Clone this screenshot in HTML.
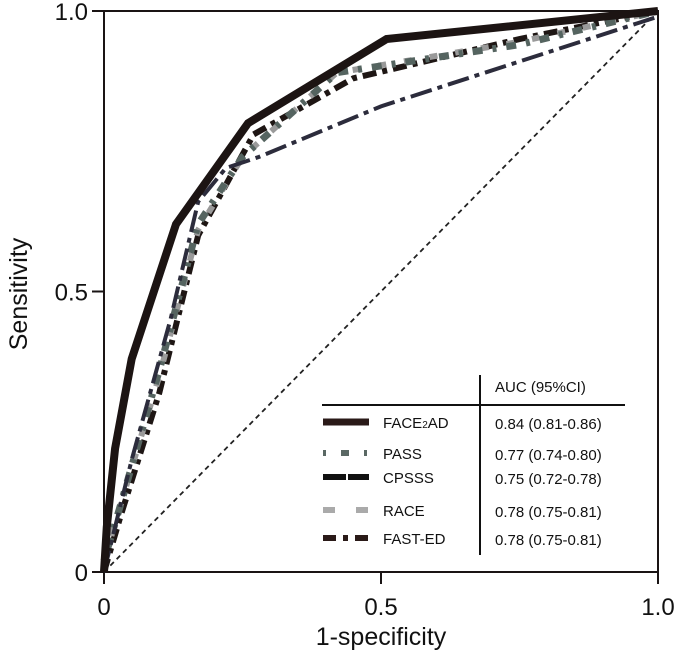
<!DOCTYPE html>
<html><head><meta charset="utf-8"><style>
body{margin:0;background:#fff}
svg{display:block;font-family:"Liberation Sans",Arial,sans-serif}
</style></head><body>
<svg id="chart" width="685" height="657" viewBox="0 0 685 657">
<g id="plot"></g>
</svg>
<script>
const xTicks=[0,0.5,1.0];
const xTickLabels=["0","0.5","1.0"];
const yTicks=[0,0.5,1.0];
const yTickLabels=["0","0.5","1.0"];
const seriesNames=["FAST-ED","RACE","PASS","CPSSS","FACE2AD"];
const faceX=[0,0.005,0.02,0.05,0.13,0.26,0.51,1];
const faceY=[0,0.08,0.22,0.38,0.62,0.80,0.95,1];
const passX=[0,0.03,0.1,0.17,0.25,0.42,0.75,1];
const passY=[0.02,0.12,0.36,0.62,0.74,0.89,0.94,1];
const cpsssX=[0,0.05,0.12,0.17,0.22,0.28,0.5,1];
const cpsssY=[0,0.2,0.45,0.66,0.72,0.74,0.83,0.99];
const raceX=[0,0.03,0.1,0.17,0.25,0.42,0.75,1];
const raceY=[0.02,0.12,0.35,0.61,0.74,0.89,0.945,1];
const fastX=[0,0.03,0.1,0.17,0.27,0.45,0.75,1];
const fastY=[0,0.1,0.32,0.6,0.78,0.88,0.95,1];
const aucLabels=["0.84 (0.81-0.86)","0.77 (0.74-0.80)","0.75 (0.72-0.78)","0.78 (0.75-0.81)","0.78 (0.75-0.81)"];

const X0=104,X1=658,Y0=572,Y1=11;
const sx=v=>X0+v*(X1-X0);
const sy=v=>Y0-v*(Y0-Y1);
const NS="http://www.w3.org/2000/svg";
const g=document.getElementById('plot');
function mk(tag,attrs,parent){const e=document.createElementNS(NS,tag);for(const k in attrs)e.setAttribute(k,attrs[k]);(parent||g).appendChild(e);return e;}

// frame
let e=mk('rect',{x:X0,y:Y1,width:X1-X0,height:Y0-Y1,fill:'none',stroke:'#1a1414','stroke-width':2});


xTicks.forEach((t,i)=>{
 let l=mk('line',{x1:sx(t),x2:sx(t),y1:Y0,y2:Y0+12,stroke:'#1a1414','stroke-width':2});
 
 
 let tx=mk('text',{x:sx(t),y:Y0+43,'font-size':24,'text-anchor':'middle',fill:'#111'});
 tx.textContent=xTickLabels[i];
 
 
});
yTicks.forEach((t,i)=>{
 let l=mk('line',{x1:X0-12,x2:X0,y1:sy(t),y2:sy(t),stroke:'#1a1414','stroke-width':2});
 
 
 let tx=mk('text',{x:X0-16,y:sy(t)+9,'font-size':24,'text-anchor':'end',fill:'#111'});
 tx.textContent=yTickLabels[i];
 
 
});
let xt=mk('text',{x:381,y:645,'font-size':25,'text-anchor':'middle',fill:'#111'});
xt.textContent='1-specificity';


let yt=mk('text',{x:0,y:0,'font-size':25,'text-anchor':'middle',fill:'#111',transform:'translate(27,294) rotate(-90)'});
yt.textContent='Sensitivity';



// diagonal
let d=mk('line',{x1:sx(0),y1:sy(0),x2:sx(1),y2:sy(1),stroke:'#222','stroke-width':1.8,'stroke-dasharray':'5,4'});



const styles={
 "FACE2AD":{c:'#1c1413',w:8,da:'none'},
 "PASS":{c:'#556460',w:7,da:'4,10,10,10'},
 "CPSSS":{c:'#2c2c3c',w:4,da:'22,6,5,6'},
 "RACE":{c:'#9a9a9a',w:6,da:'8,18'},
 "FAST-ED":{c:'#1e1614',w:6,da:'14,6,5,6'}
};
const data={"FACE2AD":[faceX,faceY],"PASS":[passX,passY],"CPSSS":[cpsssX,cpsssY],"RACE":[raceX,raceY],"FAST-ED":[fastX,fastY]};
seriesNames.forEach(n=>{
 const [xs,ys]=data[n];const s=styles[n];
 const pts=xs.map((x,i)=>sx(x)+','+sy(ys[i])).join(' ');
 let p=mk('polyline',{points:pts,fill:'none',stroke:s.c,'stroke-width':s.w,'stroke-dasharray':s.da,'stroke-linejoin':'miter'});
 
 
});

// legend
const lg=mk('g',{});


mk('line',{x1:480,x2:480,y1:375,y2:555,stroke:'#111','stroke-width':2},lg);
mk('line',{x1:322,x2:625,y1:405,y2:405,stroke:'#111','stroke-width':2},lg);
let hd=mk('text',{x:495,y:392,'font-size':15,fill:'#111'},lg);
hd.textContent='AUC (95%CI)';


const legOrder=["FACE2AD","PASS","CPSSS","RACE","FAST-ED"];
const legY=[422,453,477,510,538];
const legDash={"FACE2AD":'none',"PASS":'3,15,8,15,3',"CPSSS":'23,2,23',"RACE":'12,21,12',"FAST-ED":'13,7,5,7,13'};
const legCol={"FACE2AD":'#2a1a18',"PASS":'#5a6864',"CPSSS":'#111',"RACE":'#aaa',"FAST-ED":'#2a1a18'};
legOrder.forEach((n,i)=>{
 let l=mk('line',{x1:323,x2:369,y1:legY[i],y2:legY[i],stroke:legCol[n],'stroke-width':n==='FACE2AD'?7:6,'stroke-dasharray':legDash[n]},lg);
 
 
 let t=mk('text',{x:383,y:legY[i]+6,'font-size':15,fill:'#111'},lg);
 if(n==='FACE2AD'){t.innerHTML='FACE<tspan font-size="10">2</tspan>AD';}else t.textContent=n;
 
 
 let a=mk('text',{x:495,y:legY[i]+7,'font-size':15,fill:'#111'},lg);
 a.textContent=aucLabels[i];
 
 
});
</script>
</body></html>
